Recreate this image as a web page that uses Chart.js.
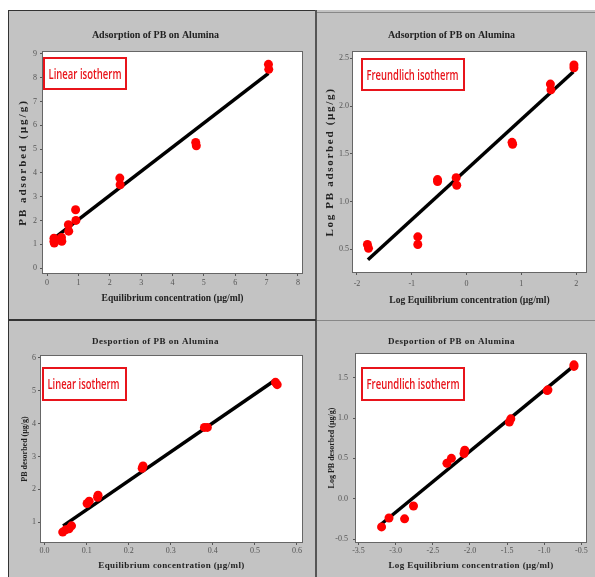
<!DOCTYPE html>
<html>
<head>
<meta charset="utf-8">
<script src="https://cdn.jsdelivr.net/npm/chart.js@4/dist/chart.umd.min.js"></script>
<style>
html,body{margin:0;padding:0;background:#fff;width:595px;height:577px;overflow:hidden;position:relative}
#bg{position:absolute;left:8px;top:10px;width:587px;height:567px;background:#c3c3c3}
.ln{position:absolute}
canvas{position:absolute}
</style>
</head>
<body>
<div id="bg"></div>
<canvas id="c1" width="306" height="308" style="left:9px;top:11px"></canvas>
<canvas id="c2" width="278" height="306" style="left:317px;top:13px"></canvas>
<canvas id="c3" width="306" height="256" style="left:9px;top:321px"></canvas>
<canvas id="c4" width="278" height="256" style="left:317px;top:321px"></canvas>
<div class="ln" style="left:8px;top:10px;width:308px;height:1px;background:#333"></div>
<div class="ln" style="left:8px;top:10px;width:1px;height:567px;background:#333"></div>
<div class="ln" style="left:317px;top:12px;width:278px;height:1px;background:#888"></div>
<div class="ln" style="left:315px;top:10px;width:2px;height:567px;background:#555"></div>
<div class="ln" style="left:8px;top:319px;width:308px;height:2px;background:#333"></div>
<div class="ln" style="left:317px;top:320px;width:278px;height:1px;background:#888"></div>
<script>
// ---------- DATA ----------
// Panel 1: Adsorption, linear isotherm
const adsLinX = [0.22, 0.22, 0.23, 0.46, 0.47, 0.68, 0.69, 0.91, 0.92, 2.32, 2.33, 4.74, 4.76, 7.06, 7.07];
const adsLinY = [1.25, 1.12, 1.05, 1.28, 1.12, 1.82, 1.55, 2.45, 2.00, 3.78, 3.50, 5.28, 5.14, 8.56, 8.35];
const adsLinFitX = [0.22, 7.06];
const adsLinFitY = [1.25, 8.18];
const adsLinXTicks = [0, 1, 2, 3, 4, 5, 6, 7, 8];
const adsLinYTicks = [0, 1, 2, 3, 4, 5, 6, 7, 8, 9];

// Panel 2: Adsorption, Freundlich isotherm
const adsFrX = [-1.81, -1.79, -0.89, -0.89, -0.53, -0.53, -0.19, -0.18, 0.83, 0.84, 1.53, 1.54, 1.96, 1.96];
const adsFrY = [0.55, 0.51, 0.63, 0.55, 1.23, 1.21, 1.25, 1.17, 1.62, 1.60, 2.23, 2.17, 2.43, 2.40];
const adsFrFitX = [-1.80, 1.95];
const adsFrFitY = [0.39, 2.36];
const adsFrXTicks = [-2, -1, 0, 1, 2];
const adsFrYTicks = [0.5, 1.0, 1.5, 2.0, 2.5];

// Panel 3: Desorption, linear isotherm
const desLinX = [0.043, 0.050, 0.058, 0.064, 0.101, 0.106, 0.126, 0.127, 0.232, 0.234, 0.380, 0.387, 0.549, 0.553];
const desLinY = [0.70, 0.77, 0.80, 0.89, 1.57, 1.64, 1.76, 1.82, 2.64, 2.71, 3.88, 3.88, 5.25, 5.18];
const desLinFitX = [0.044, 0.545];
const desLinFitY = [0.89, 5.29];
const desLinXTicks = [0.0, 0.1, 0.2, 0.3, 0.4, 0.5, 0.6];
const desLinYTicks = [1, 2, 3, 4, 5, 6];

// Panel 4: Desorption, Freundlich isotherm
const desFrX = [-3.19, -3.09, -2.88, -2.76, -2.31, -2.25, -2.08, -2.07, -1.47, -1.45, -0.96, -0.95, -0.60, -0.60];
const desFrY = [-0.35, -0.24, -0.25, -0.09, 0.44, 0.50, 0.56, 0.60, 0.95, 0.99, 1.34, 1.35, 1.64, 1.66];
const desFrFitX = [-3.20, -0.61];
const desFrFitY = [-0.32, 1.64];
const desFrXTicks = [-3.5, -3.0, -2.5, -2.0, -1.5, -1.0, -0.5];
const desFrYTicks = [-0.5, 0.0, 0.5, 1.0, 1.5];

const titleAds = 'Adsorption of PB on Alumina';
const titleDes = 'Desportion of PB on Alumina';
const xTitleLin = 'Equilibrium concentration (µg/ml)';
const xTitleLog = 'Log Equilibrium concentration (µg/ml)';
const labelLin = 'Linear isotherm';
const labelFr = 'Freundlich isotherm';

// ---------- STYLE / LAYOUT ----------
const SERIF = '"Liberation Serif", "Times New Roman", serif';
const SANS = '"Open Sans", Lato, sans-serif';
const RED = '#ff0000';
const BOXRED = '#e8141b';

const panels = [
  {id:'c1', title:titleAds, xTitle:xTitleLin, yTitle:'PB adsorbed (µg/g)', label:labelLin,
   xs:adsLinX, ys:adsLinY, fx:adsLinFitX, fy:adsLinFitY, xt:adsLinXTicks, yt:adsLinYTicks, dec:[0,0],
   xr:[-0.13, 8.13], yr:[-0.21, 9.08],
   yW:34, xH:46, padR:13, tFont:10, tPadT:18, tPadB:11, tSp:0,
   axFont:9.6, axSp:0, xTitlePad:15.2, yFont:11, yTitlePad:7.4, ySp:2,
   xTL:3, xPad:2, yTL:3, yPad:3, box:{dx:1, dy:6, w:82, h:31, tw:73}},
  {id:'c2', title:titleAds, xTitle:xTitleLog, yTitle:'Log PB adsorbed (µg/g)', label:labelFr,
   xs:adsFrX, ys:adsFrY, fx:adsFrFitX, fy:adsFrFitY, xt:adsFrXTicks, yt:adsFrYTicks, dec:[0,1],
   xr:[-2.073, 2.18], yr:[0.262, 2.566],
   yW:36, xH:47, padR:9, tFont:10, tPadT:16, tPadB:11, tSp:0,
   axFont:9.6, axSp:0, xTitlePad:12.5, yFont:11, yTitlePad:6.4, ySp:1.7,
   xTL:3, xPad:4, yTL:3, yPad:1, box:{dx:9, dy:7, w:102, h:31, tw:92}},
  {id:'c3', title:titleDes, xTitle:xTitleLin, yTitle:'PB desorbed (µg/g)', label:labelLin,
   xs:desLinX, ys:desLinY, fx:desLinFitX, fy:desLinFitY, xt:desLinXTicks, yt:desLinYTicks, dec:[1,0],
   xr:[-0.0086, 0.612], yr:[0.40, 6.05],
   yW:32, xH:35, padR:13, tFont:9, tPadT:15.3, tPadB:8.9, tSp:0.5,
   axFont:9, axSp:0.4, xTitlePad:5.6, yFont:8, yTitlePad:11.2, ySp:0,
   xTL:3, xPad:1, yTL:3, yPad:2, box:{dx:2, dy:12, w:83, h:32, tw:72}},
  {id:'c4', title:titleDes, xTitle:xTitleLog, yTitle:'Log PB desorbed (µg/g)', label:labelFr,
   xs:desFrX, ys:desFrY, fx:desFrFitX, fy:desFrFitY, xt:desFrXTicks, yt:desFrYTicks, dec:[1,1],
   xr:[-3.534, -0.438], yr:[-0.537, 1.794],
   yW:39, xH:35, padR:9, tFont:9, tPadT:15.3, tPadB:6.9, tSp:0.5,
   axFont:9, axSp:0.4, xTitlePad:5.6, yFont:8, yTitlePad:9.9, ySp:0,
   xTL:3, xPad:1, yTL:3, yPad:5, box:{dx:6, dy:14, w:102, h:32, tw:93}}
];

function withSpacing(obj, method, sp) {
  if (!obj || obj['_sp_' + method] === obj[method]) return;
  const orig = obj[method];
  const wrapped = function() {
    const c = this.ctx || (this.chart && this.chart.ctx);
    const prev = c.letterSpacing;
    c.letterSpacing = sp + 'px';
    const r = orig.apply(this, arguments);
    c.letterSpacing = prev;
    return r;
  };
  obj[method] = wrapped;
  obj['_sp_' + method] = wrapped;
}

panels.forEach(p => {
  const pts = p.xs.map((x, i) => ({x: x, y: p.ys[i]}));
  const fit = p.fx.map((x, i) => ({x: x, y: p.fy[i]}));
  const tickFont = {family: SERIF, size: 8};
  const plugin = {
    id: 'frame_' + p.id,
    beforeDraw(chart) {
      const a = chart.chartArea, ctx = chart.ctx;
      ctx.save();
      ctx.fillStyle = '#fff';
      ctx.fillRect(a.left, a.top, a.right - a.left, a.bottom - a.top);
      ctx.restore();
      if (p.ySp) withSpacing(chart.scales.y, 'drawTitle', p.ySp);
      if (p.axSp) withSpacing(chart.scales.x, 'drawTitle', p.axSp);
      if (p.tSp && chart.titleBlock) withSpacing(chart.titleBlock, 'draw', p.tSp);
    },
    afterDraw(chart) {
      const a = chart.chartArea, ctx = chart.ctx, b = p.box;
      ctx.save();
      ctx.strokeStyle = '#666';
      ctx.lineWidth = 1;
      ctx.strokeRect(Math.round(a.left) - 0.5, Math.round(a.top) - 0.5,
                     Math.round(a.right - a.left) + 1, Math.round(a.bottom - a.top) + 1);
      // annotation box
      const bx = a.left + b.dx, by = a.top + b.dy;
      ctx.fillStyle = '#fff';
      ctx.fillRect(bx, by, b.w, b.h);
      ctx.strokeStyle = BOXRED;
      ctx.lineWidth = 2;
      ctx.strokeRect(bx, by, b.w, b.h);
      ctx.font = '600 15px ' + SANS;
      ctx.fillStyle = BOXRED;
      ctx.textBaseline = 'middle';
      ctx.textAlign = 'left';
      const m = ctx.measureText(p.label).width;
      const sx = b.tw / m;
      ctx.translate(bx + 4.5, by + b.h / 2 + 1);
      ctx.scale(sx, 1);
      ctx.fillText(p.label, 0, 0);
      ctx.restore();
    }
  };
  new Chart(document.getElementById(p.id), {
    type: 'scatter',
    data: {
      datasets: [
        {data: pts, backgroundColor: RED, borderColor: RED, borderWidth: 0, pointRadius: 4.5, pointHoverRadius: 4.5, showLine: false},
        {data: fit, showLine: true, borderColor: '#000', borderWidth: 3.5, pointRadius: 0, fill: false, tension: 0}
      ]
    },
    options: {
      responsive: false, animation: false, devicePixelRatio: 1,
      layout: {padding: {left: 0, top: 0, right: p.padR, bottom: 0}},
      plugins: {
        legend: {display: false}, tooltip: {enabled: false},
        title: {display: true, text: p.title, color: '#222',
                font: {family: SERIF, size: p.tFont, weight: 'bold', lineHeight: 1.2},
                padding: {top: p.tPadT, bottom: p.tPadB}}
      },
      scales: {
        x: {
          type: 'linear', position: 'bottom', min: p.xr[0], max: p.xr[1],
          afterBuildTicks: s => { s.ticks = p.xt.map(v => ({value: v})); },
          afterFit: s => { s.height = p.xH; },
          ticks: {callback: v => Number(v).toFixed(p.dec[0]), font: tickFont, color: '#555',
                  padding: p.xPad, maxRotation: 0, minRotation: 0, autoSkip: false},
          grid: {drawOnChartArea: false, drawTicks: true, tickLength: p.xTL, color: '#555'},
          border: {display: false},
          title: {display: true, text: p.xTitle, color: '#222',
                  font: {family: SERIF, size: p.axFont, weight: 'bold', lineHeight: 1.2},
                  padding: {top: 0, bottom: p.xTitlePad}}
        },
        y: {
          type: 'linear', position: 'left', min: p.yr[0], max: p.yr[1],
          afterBuildTicks: s => { s.ticks = p.yt.map(v => ({value: v})); },
          afterFit: s => { s.width = p.yW; },
          ticks: {callback: v => Number(v).toFixed(p.dec[1]), font: tickFont, color: '#555',
                  padding: p.yPad, autoSkip: false},
          grid: {drawOnChartArea: false, drawTicks: true, tickLength: p.yTL, color: '#555'},
          border: {display: false},
          title: {display: true, text: p.yTitle, color: '#222',
                  font: {family: SERIF, size: p.yFont, weight: 'bold', lineHeight: 1.2},
                  padding: {top: p.yTitlePad, bottom: 0}}
        }
      }
    },
    plugins: [plugin]
  });
});
</script>
</body>
</html>
